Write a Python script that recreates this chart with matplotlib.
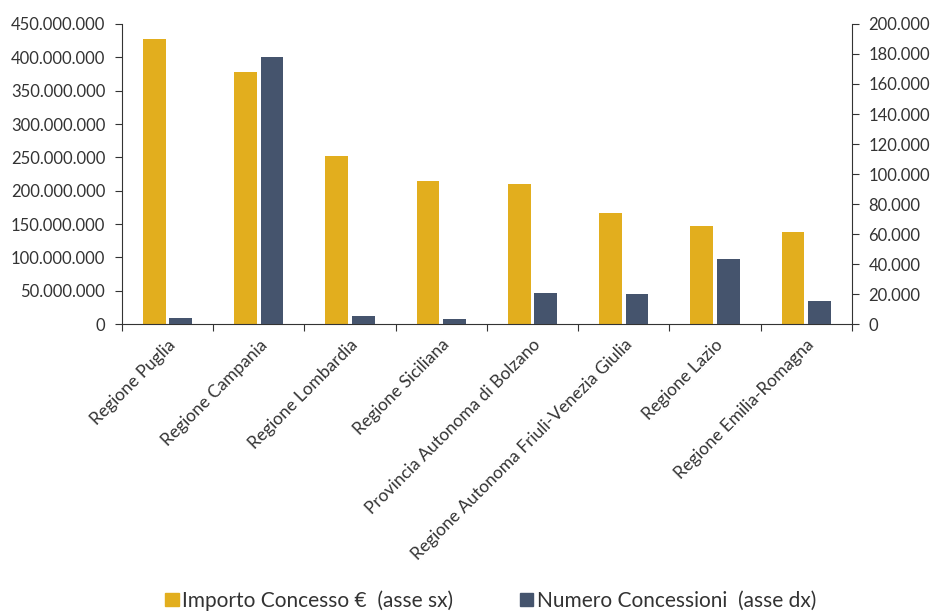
import matplotlib
matplotlib.use("Agg")
import matplotlib.pyplot as plt
from matplotlib.ticker import FuncFormatter
from matplotlib.patches import Patch
import numpy as np

plt.rcParams['font.family'] = ['Lato', 'DejaVu Sans']

# data
regioni = ["Regione Puglia", "Regione Campania", "Regione Lombardia", "Regione Siciliana",
           "Provincia Autonoma di Bolzano", "Regione Autonoma Friuli-Venezia Giulia",
           "Regione Lazio", "Regione Emilia-Romagna"]
importo = [427e6, 378e6, 252e6, 215e6, 210e6, 166e6, 147e6, 138e6]
numero = [4200, 177800, 5300, 3300, 20700, 20000, 43500, 15300]

GOLD = "#E2AE1E"
NAVY = "#45546D"
TXT = "#333333"

def dotted(v, pos):
    return f"{int(round(v)):,}".replace(",", ".")

fig = plt.figure(figsize=(9.31, 6.14), dpi=100)
ax = fig.add_axes([0.131, 0.472, 0.784, 0.489])
ax2 = ax.twinx()

x = np.arange(len(regioni))
ax.bar(x - 0.145, importo, width=0.25, color=GOLD, zorder=2)
ax2.bar(x + 0.145, numero, width=0.25, color=NAVY, zorder=2)

ax.set_xlim(-0.5, len(regioni) - 0.5)
ax.set_ylim(0, 450e6)
ax2.set_ylim(0, 200000)
ax.set_yticks(np.arange(0, 450e6 + 1, 50e6))
ax2.set_yticks(np.arange(0, 200001, 20000))
ax.yaxis.set_major_formatter(FuncFormatter(dotted))
ax2.yaxis.set_major_formatter(FuncFormatter(dotted))

# category ticks sit on the boundaries, labels at the centres
ax.set_xticks(np.arange(-0.5, len(regioni) + 0.5, 1))
ax.set_xticklabels([])
ax.set_xticks(x, minor=True)
ax.set_xticklabels(regioni, minor=True, rotation=45, ha="right", va="top",
                   rotation_mode="anchor", fontsize=12.5, color=TXT)
ax.tick_params(axis="x", which="minor", length=0, pad=9)
ax.tick_params(axis="x", which="major", length=5, direction="out", color="#333333")

for a in (ax, ax2):
    a.spines["top"].set_visible(False)
    for s in ("left", "right", "bottom"):
        a.spines[s].set_color("#333333")
ax.spines["right"].set_visible(False)
ax2.spines["left"].set_visible(False)
ax2.spines["bottom"].set_visible(False)

ax.tick_params(axis="y", length=5, direction="out", pad=7, labelsize=12, labelcolor=TXT, color="#333333")
ax2.tick_params(axis="y", length=5, direction="out", pad=7, labelsize=12, labelcolor=TXT, color="#333333")

handles = [Patch(color=GOLD, label="Importo Concesso €  (asse sx)"),
           Patch(color=NAVY, label="Numero Concessioni  (asse dx)")]
fig.legend(handles=handles, loc="center", bbox_to_anchor=(0.527, 0.022), ncol=2, frameon=False,
           fontsize=15, handlelength=0.65, handleheight=0.65, handletextpad=0.15,
           columnspacing=3.2, labelcolor=TXT)

fig.savefig("out.png", dpi=100)
